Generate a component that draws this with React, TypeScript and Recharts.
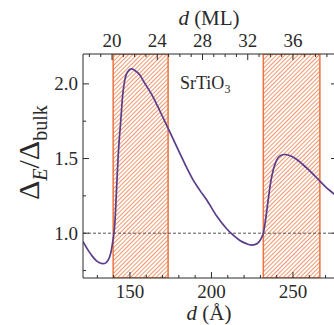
import React from "react";
import {
  ComposedChart,
  Line,
  XAxis,
  YAxis,
  ReferenceArea,
  ReferenceLine,
  Customized,
} from "recharts";

// thickness d in Å and gap ratio Δ_E/Δ_bulk
const thicknessA = [
  121.2, 123, 125, 127, 129, 131, 133, 134.5, 136, 137.5, 138.5, 139.4, 140.2,
  140.8, 141.8, 142.8, 143.6, 144.3, 145.5, 146.9, 148.5, 151, 153, 156.1,
  158.2, 164.3, 168.5, 173.5, 180.7, 184.5, 188.8, 193, 197.1, 203.2, 209.3,
  213, 217, 221, 224.5, 227, 229, 230.5, 231.8, 232.8, 233.8, 235, 236.3, 237.8,
  240, 242.5, 245, 248, 251.5, 255.5, 260, 265.5, 270, 274.7, 277,
];
const gapRatio = [
  0.944, 0.91, 0.875, 0.845, 0.82, 0.803, 0.796, 0.797, 0.81, 0.84, 0.88, 0.94,
  1.0, 1.077, 1.3, 1.52, 1.65, 1.744, 1.92, 2.03, 2.08, 2.1, 2.09, 2.06, 2.02,
  1.91, 1.815, 1.7, 1.533, 1.445, 1.355, 1.285, 1.222, 1.115, 1.03, 0.99,
  0.955, 0.932, 0.92, 0.925, 0.94, 0.965, 1.0, 1.06, 1.14, 1.24, 1.34, 1.42,
  1.49, 1.52, 1.527, 1.52, 1.5, 1.465, 1.42, 1.36, 1.31, 1.267, 1.245,
];

// shaded thickness windows (Å)
const bands = [
  [139.7, 173.4],
  [231.8, 266.5],
];

const bottomTicks = [130, 140, 150, 160, 170, 180, 190, 200, 210, 220, 230, 240, 250, 260, 270];
const bottomLabels = [150, 200, 250];
const topTicksML = [18, 19, 20, 21, 22, 23, 24, 25, 26, 27, 28, 29, 30, 31, 32, 33, 34, 35, 36, 37, 38, 39];
const topLabelsML = [20, 24, 28, 32, 36];
const yTicks = [0.75, 1.0, 1.25, 1.5, 1.75, 2.0];
const yLabels = [1.0, 1.5, 2.0];

// one monolayer in Å
const A_PER_ML = 6.9375;
const mlToA = (ml: number) => ml * A_PER_ML + 0.25;
const aToMl = (a: number) => (a - 0.25) / A_PER_ML;
const xDomain = [121.2, 277];

const data = thicknessA.map((d, i) => ({ d, r: gapRatio[i] }));

const FONT = "'Liberation Serif', 'DejaVu Serif', serif";
const INK = "#2a2a2a";
const ORANGE = "#ea7440";
const TICK_FONT = 19;

// inward tick marks, Mathematica style
function makeTick(side: "left" | "right" | "top" | "bottom", isMajor: (v: number) => boolean, fmt: (v: number) => string) {
  // eslint-disable-next-line @typescript-eslint/no-explicit-any
  return function Tick(props: any) {
    const { x, y, payload } = props;
    const v = payload.value as number;
    const major = isMajor(v);
    const len = major ? 6 : 3;
    let line = null;
    let text = null;
    if (side === "left") {
      line = <line x1={x} y1={y} x2={x + len} y2={y} stroke={INK} />;
      if (major)
        text = (
          <text x={x - 5} y={y + 6.5} textAnchor="end" fontSize={TICK_FONT} fill={INK} fontFamily={FONT}>
            {fmt(v)}
          </text>
        );
    } else if (side === "right") {
      line = <line x1={x} y1={y} x2={x - len} y2={y} stroke={INK} />;
    } else if (side === "top") {
      line = <line x1={x} y1={y} x2={x} y2={y + len} stroke={INK} />;
      if (major)
        text = (
          <text x={x} y={y - 7} textAnchor="middle" fontSize={TICK_FONT} fill={INK} fontFamily={FONT}>
            {fmt(v)}
          </text>
        );
    } else {
      line = <line x1={x} y1={y} x2={x} y2={y - len} stroke={INK} />;
      if (major)
        text = (
          <text x={x} y={y + 20} textAnchor="middle" fontSize={TICK_FONT} fill={INK} fontFamily={FONT}>
            {fmt(v)}
          </text>
        );
    }
    return (
      <g>
        {line}
        {text}
      </g>
    );
  };
}

const near = (list: number[]) => (v: number) => list.some((l) => Math.abs(l - v) < 1e-6);
const LeftTick = makeTick("left", near(yLabels), (v) => v.toFixed(1));
const RightTick = makeTick("right", near(yLabels), (v) => v.toFixed(1));
const TopTick = makeTick("top", (v) => near(topLabelsML)(Math.round(aToMl(v) * 1000) / 1000), (v) => String(Math.round(aToMl(v))));
const BottomTick = makeTick("bottom", near(bottomLabels), (v) => String(v));

// titles and the material tag
function Titles() {
  return (
    <g fontFamily={FONT} fill={INK}>
      <text x={209} y={25} textAnchor="middle" fontSize={21}>
        <tspan fontStyle="italic">d</tspan> (ML)
      </text>
      <text x={209} y={320} textAnchor="middle" fontSize={21}>
        <tspan fontStyle="italic">d</tspan> (Å)
      </text>
      <text x={180} y={89} fontSize={18}>
        SrTiO<tspan fontSize={12} dy={4}>3</tspan>
      </text>
      <text transform="translate(39,200) rotate(-90)" fontSize={30}>
        Δ<tspan fontStyle="italic" fontSize={20} dy={8}>E</tspan>
        <tspan dy={-8}>/Δ</tspan>
        <tspan fontSize={20} dy={8}>bulk</tspan>
      </text>
    </g>
  );
}

export default function App() {
  return (
    <div
      style={{
        position: "absolute",
        left: 0,
        top: 0,
        width: 334,
        height: 325,
        overflow: "hidden",
        background: "#fff",
      }}
    >
      <ComposedChart width={345} height={325} data={data} margin={{ top: 0, right: 0, bottom: 0, left: 0 }}>
        <defs>
          <pattern id="hatch" patternUnits="userSpaceOnUse" width="3" height="3" patternTransform="rotate(45)">
            <rect width="3" height="3" fill="#fff" />
            <line x1="0" y1="0" x2="0" y2="3" stroke="#f07c48" strokeWidth={1.6} />
          </pattern>
        </defs>
        <XAxis
          dataKey="d"
          type="number"
          domain={xDomain}
          allowDataOverflow
          ticks={bottomTicks}
          interval={0}
          height={47}
          tickSize={0}
          tickMargin={0}
          tickLine={false}
          stroke={INK}
          tick={<BottomTick />}
        />
        <XAxis
          xAxisId="top"
          dataKey="d"
          orientation="top"
          type="number"
          domain={xDomain}
          allowDataOverflow
          ticks={topTicksML.map(mlToA)}
          interval={0}
          height={54}
          tickSize={0}
          tickMargin={0}
          tickLine={false}
          stroke={INK}
          tick={<TopTick />}
        />
        <YAxis
          type="number"
          domain={[0.7, 2.2]}
          allowDataOverflow
          ticks={yTicks}
          interval={0}
          width={83}
          tickSize={0}
          tickMargin={0}
          tickLine={false}
          stroke={INK}
          tick={<LeftTick />}
        />
        <YAxis
          yAxisId="r"
          orientation="right"
          type="number"
          domain={[0.7, 2.2]}
          allowDataOverflow
          ticks={yTicks}
          interval={0}
          width={8}
          tickSize={0}
          tickMargin={0}
          tickLine={false}
          stroke={INK}
          tick={<RightTick />}
        />
        {bands.map(([a, b], i) => (
          <ReferenceArea
            key={i}
            x1={a}
            x2={b}
            fill="url(#hatch)"
            fillOpacity={1}
            stroke={ORANGE}
            strokeWidth={1.5}
            ifOverflow="hidden"
          />
        ))}
        <ReferenceLine y={1} stroke="#555" strokeDasharray="3 2" strokeWidth={1} />
        <Line
          dataKey="r"
          type="monotone"
          stroke="#5a3d8a"
          strokeWidth={1.7}
          dot={false}
          isAnimationActive={false}
        />
        <Customized component={Titles} />
      </ComposedChart>
    </div>
  );
}
